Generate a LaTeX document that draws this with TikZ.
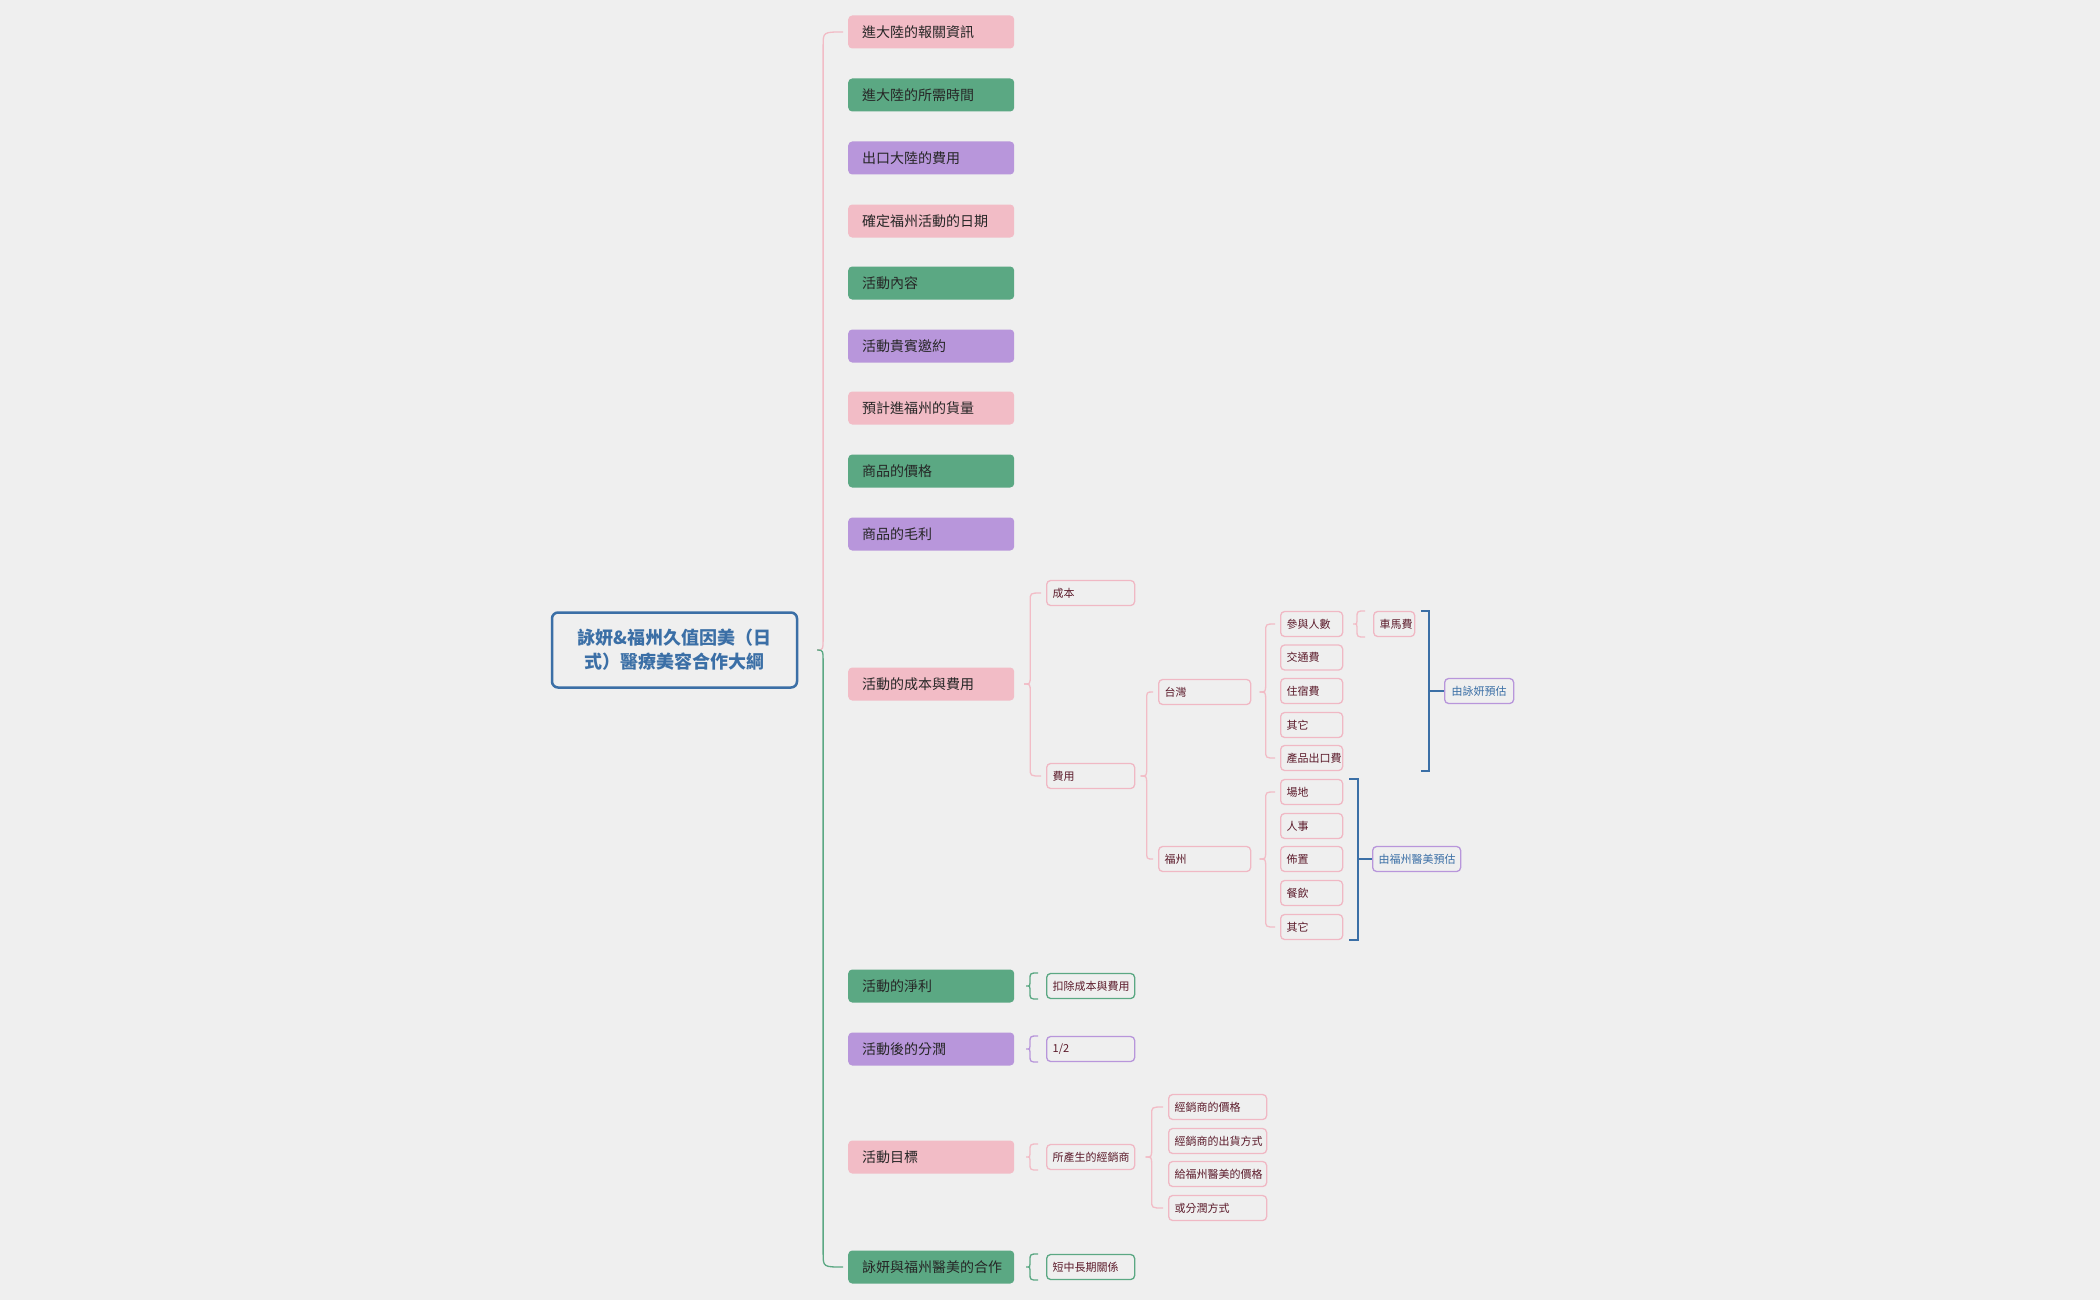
\documentclass[tikz,border=0pt]{standalone}
\usepackage{fontspec}
\setmainfont{Noto Sans CJK TC}
\usetikzlibrary{calc}
\definecolor{bg}{HTML}{EFEFEF}
\definecolor{pk}{HTML}{F2BCC6}
\definecolor{pkl}{HTML}{F0B8C4}
\definecolor{gr}{HTML}{5BA883}
\definecolor{pu}{HTML}{B896DB}
\definecolor{bl}{HTML}{3B6FA6}
\definecolor{tx}{HTML}{5B1A2A}
\newcommand\myBrace[6]{% upper color, lower color, parent, first, last, radius
\draw[#1,brl] let \p1=(#3.east),\p2=(#4.west),\p3=(#5.west),\n1={(\x1+\x2)/2} in
 (\x2-5pt,\y2) .. controls (\n1,\y2) .. (\n1,\y2-#6) -- (\n1,\y1+#6) .. controls (\n1,\y1) .. (\n1-6pt,\y1);
\draw[#2,brl] let \p1=(#3.east),\p2=(#4.west),\p3=(#5.west),\n1={(\x1+\x2)/2} in
 (\n1-6pt,\y1) .. controls (\n1,\y1) .. (\n1,\y1-#6) -- (\n1,\y3+#6) .. controls (\n1,\y3) .. (\x2-5pt,\y3);}
\newcommand\myOne[2]{% color, child
\draw[#1,brl] let \p2=(#2.west) in
 (\x2-8pt,\y2+13pt) .. controls (\x2-16pt,\y2+13pt) .. (\x2-16pt,\y2+6pt) -- (\x2-16pt,\y2+3pt) .. controls (\x2-16pt,\y2) .. (\x2-20pt,\y2)
 .. controls (\x2-16pt,\y2) .. (\x2-16pt,\y2-3pt) -- (\x2-16pt,\y2-6pt) .. controls (\x2-16pt,\y2-13pt) .. (\x2-8pt,\y2-13pt);}
\begin{document}
\begin{tikzpicture}[x=1pt,y=-1pt,
 brl/.style={line width=1.3pt},
 l1/.style={rounded corners=4pt,minimum height=33pt,text width=138pt,inner xsep=14pt,align=left,anchor=west,font=\fontsize{14}{16}\selectfont,text=black!85},
 P/.style={l1,fill=pk},G/.style={l1,fill=gr},U/.style={l1,fill=pu},
 l2/.style={draw,line width=1.3pt,rounded corners=4pt,minimum height=25pt,inner xsep=6pt,align=left,anchor=west,font=\fontsize{11}{13}\selectfont,text=tx},
 p2/.style={l2,draw=pkl},g2/.style={l2,draw=gr},u2/.style={l2,draw=pu},
 sm/.style={l2,draw=pu,text=bl,align=center}]
\fill[bg] (0,0) rectangle (2100,1300);
\useasboundingbox (0,0) rectangle (2100,1300);
\node[draw=bl,line width=2.5pt,rounded corners=6pt,minimum width=245pt,minimum height=75pt,align=center,text=bl,font=\fontsize{18}{24}\selectfont\bfseries] (root) at (674.5,650) {詠妍\&福州久值因美（日\\式）醫療美容合作大綱};
\node[P] (a1) at (848,32) {進大陸的報關資訊};
\node[G] (a2) at (848,95) {進大陸的所需時間};
\node[U] (a3) at (848,158) {出口大陸的費用};
\node[P] (a4) at (848,221) {確定福州活動的日期};
\node[G] (a5) at (848,283) {活動內容};
\node[U] (a6) at (848,346) {活動貴賓邀約};
\node[P] (a7) at (848,408) {預計進福州的貨量};
\node[G] (a8) at (848,471) {商品的價格};
\node[U] (a9) at (848,534) {商品的毛利};
\node[P] (a10) at (848,684) {活動的成本與費用};
\node[G] (a11) at (848,986) {活動的淨利};
\node[U] (a12) at (848,1049) {活動後的分潤};
\node[P] (a13) at (848,1157) {活動目標};
\node[G] (a14) at (848,1267) {詠妍與福州醫美的合作};
\myBrace{pk}{gr}{root}{a1}{a14}{14pt}
% cost subtree
\node[p2,text width=76pt] (cb) at (1046,593) {成本};
\node[p2,text width=76pt] (fy) at (1046,776) {費用};
\myBrace{pk}{pk}{a10}{cb}{fy}{8pt}
\node[p2,text width=80pt] (tw) at (1158,692) {台灣};
\node[p2,text width=80pt] (fz) at (1158,859) {福州};
\myBrace{pk}{pk}{fy}{tw}{fz}{8pt}
\node[p2,text width=50pt] (t1) at (1280,624) {參與人數};
\node[p2,text width=50pt] (t2) at (1280,657.5) {交通費};
\node[p2,text width=50pt] (t3) at (1280,691) {住宿費};
\node[p2,text width=50pt] (t4) at (1280,725) {其它};
\node[p2,text width=50pt] (t5) at (1280,758) {產品出口費};
\myBrace{pk}{pk}{tw}{t1}{t5}{8pt}
\node[p2,text width=29pt] (cm) at (1373,624) {車馬費};
\myOne{pk}{cm}
\node[p2,text width=50pt] (f1) at (1280,792) {場地};
\node[p2,text width=50pt] (f2) at (1280,826) {人事};
\node[p2,text width=50pt] (f3) at (1280,859) {佈置};
\node[p2,text width=50pt] (f4) at (1280,893) {餐飲};
\node[p2,text width=50pt] (f5) at (1280,927) {其它};
\myBrace{pk}{pk}{fz}{f1}{f5}{8pt}
\node[sm,text width=57pt] (s1) at (1444,691) {由詠妍預估};
\node[sm,text width=76pt] (s2) at (1372,859) {由福州醫美預估};
\draw[bl,line width=1.8pt] let \p1=(cm.east),\p2=(t1.north),\p3=(t5.south) in
 (\x1+6pt,\y2) -- (\x1+14pt,\y2) -- (\x1+14pt,\y3) -- (\x1+6pt,\y3);
\draw[bl,line width=1.8pt] let \p1=(cm.east),\p4=(s1.west) in (\x1+14pt,\y4) -- (s1.west);
\draw[bl,line width=1.8pt] let \p1=(f1.east),\p2=(f1.north),\p3=(f5.south) in
 (\x1+6pt,\y2) -- (\x1+15pt,\y2) -- (\x1+15pt,\y3) -- (\x1+6pt,\y3);
\draw[bl,line width=1.8pt] let \p1=(f1.east),\p4=(s2.west) in (\x1+15pt,\y4) -- (s2.west);
% lower
\node[g2,text width=76pt] (n1) at (1046,986) {扣除成本與費用};
\myOne{gr}{n1}
\node[u2,text width=76pt] (n2) at (1046,1049) {1/2};
\myOne{pu}{n2}
\node[p2,text width=76pt] (n3) at (1046,1157) {所產生的經銷商};
\myOne{pk}{n3}
\node[p2,text width=86pt] (d1) at (1168,1107) {經銷商的價格};
\node[p2,text width=86pt] (d2) at (1168,1141) {經銷商的出貨方式};
\node[p2,text width=86pt] (d3) at (1168,1174) {給福州醫美的價格};
\node[p2,text width=86pt] (d4) at (1168,1208) {或分潤方式};
\myBrace{pk}{pk}{n3}{d1}{d4}{8pt}
\node[g2,text width=76pt] (n4) at (1046,1267) {短中長期關係};
\myOne{gr}{n4}
\end{tikzpicture}
\end{document}
